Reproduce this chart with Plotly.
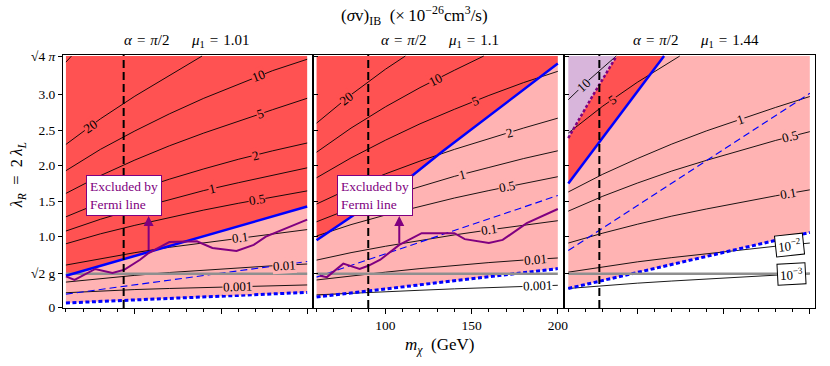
import plotly.graph_objects as go

# ---------------- data ----------------
X_RANGE = [58.3, 203.0]
Y_RANGE = [-0.005, 3.56]
Y_TOP = 3.545           # sqrt(4 pi)
G_LINE = 0.478          # sqrt(2) g level
M_GRID = [60, 80, 100, 120, 140, 160, 180, 200]

EQ = "\u2004=\u2004"
GAP = "\u2003\u2002"
panel_titles = ["<i>α</i>" + EQ + "<i>π</i>/2" + GAP + "<i>μ</i><sub>1</sub>" + EQ + "1.01",
                "<i>α</i>" + EQ + "<i>π</i>/2" + GAP + "<i>μ</i><sub>1</sub>" + EQ + "1.1",
                "<i>α</i>" + EQ + "<i>π</i>/2" + GAP + "<i>μ</i><sub>1</sub>" + EQ + "1.44"]

y_tickvals = [0, G_LINE, 1.0, 1.5, 2.0, 2.5, 3.0, Y_TOP]
y_ticktext = ["0", "√2 g", "1.0", "1.5", "2.0", "2.5", "3.0", "√4 <i>π</i>"]

# vertical dashed lines (m_chi)
vline_x = [93.5, 90.0, 78.0]

# ---- panel 1 (mu1 = 1.01)
p1_blue_x = [60, 200];  p1_blue_y = [0.45, 1.425]
p1_thin_x = [60, 200];  p1_thin_y = [0.19, 0.65]
p1_thick_x = [60, 200]; p1_thick_y = [0.066, 0.215]
p1_fermi_x = [60, 65, 77, 87, 94, 103, 108, 120, 136, 145, 159, 169, 176, 200]
p1_fermi_y = [0.44, 0.39, 0.545, 0.49, 0.535, 0.675, 0.77, 0.925, 0.935, 0.84, 0.80, 0.885, 1.0, 1.24]
p1_contours = {
    "100":   ([60, 63.2], [3.46, 3.545]),
    "20":    ([60, 80, 100, 120, 139], [2.30, 2.66, 2.98, 3.27, 3.545]),
    "10":    (M_GRID, [1.93, 2.23, 2.49, 2.73, 2.95, 3.15, 3.34, 3.50]),
    "5":     (M_GRID, [1.61, 1.86, 2.08, 2.28, 2.46, 2.63, 2.79, 2.95]),
    "2":     (M_GRID, [1.28, 1.48, 1.65, 1.81, 1.955, 2.09, 2.21, 2.32]),
    "1":     (M_GRID, [1.08, 1.245, 1.39, 1.525, 1.65, 1.76, 1.87, 1.97]),
    "0.5":   (M_GRID, [0.90, 1.04, 1.16, 1.27, 1.375, 1.47, 1.56, 1.645]),
    "0.1":   (M_GRID, [0.60, 0.69, 0.775, 0.85, 0.915, 0.98, 1.04, 1.10]),
    "0.01":  (M_GRID, [0.36, 0.41, 0.455, 0.495, 0.53, 0.56, 0.59, 0.615]),
    "0.001": (M_GRID, [0.21, 0.235, 0.255, 0.27, 0.285, 0.30, 0.31, 0.32]),
}
p1_labels = [("20", 74, 2.55, -35, "red"), ("10", 172, 3.265, -21, "red"),
             ("5", 173, 2.735, -18, "red"), ("2", 170, 2.15, -15, "red"),
             ("1", 145, 1.675, -13, "red"), ("0.5", 171, 1.52, -10, "red"),
             ("0.1", 161, 0.983, -7, "pink"), ("0.01", 187, 0.60, -4, "pink"),
             ("0.001", 159.5, 0.30, -2, "pink")]

# ---- panel 2 (mu1 = 1.1)
p2_blue_x = [60, 116, 133, 200]; p2_blue_y = [0.95, 1.87, 2.20, 3.44]
p2_thin_x = [60, 200];  p2_thin_y = [0.43, 1.58]
p2_thick_x = [60, 200]; p2_thick_y = [0.15, 0.55]
p2_fermi_x = [62, 66, 75.5, 85, 90, 97, 108, 121, 140, 146, 160, 168, 182, 200]
p2_fermi_y = [0.45, 0.43, 0.62, 0.545, 0.59, 0.675, 0.885, 1.05, 1.05, 0.965, 0.91, 0.955, 1.19, 1.39]
p2_contours = {
    "20":    ([60, 80, 100, 111.5], [2.60, 3.00, 3.36, 3.545]),
    "10":    ([60, 80, 100, 120, 140, 157], [2.19, 2.53, 2.83, 3.10, 3.345, 3.545]),
    "5":     (M_GRID, [1.83, 2.11, 2.36, 2.59, 2.795, 2.99, 3.17, 3.33]),
    "2":     (M_GRID, [1.46, 1.686, 1.885, 2.065, 2.23, 2.384, 2.53, 2.67]),
    "1":     (M_GRID, [1.21, 1.40, 1.56, 1.71, 1.85, 1.975, 2.10, 2.21]),
    "0.5":   (M_GRID, [1.01, 1.17, 1.305, 1.43, 1.545, 1.65, 1.75, 1.845]),
    "0.1":   (M_GRID, [0.67, 0.775, 0.865, 0.95, 1.025, 1.095, 1.16, 1.225]),
    "0.01":  (M_GRID, [0.39, 0.45, 0.50, 0.55, 0.595, 0.635, 0.67, 0.70]),
    "0.001": (M_GRID, [0.18, 0.205, 0.225, 0.245, 0.265, 0.28, 0.30, 0.315]),
}
p2_labels = [("20", 77.2, 2.944, -38, "red"), ("10", 129.3, 3.214, -27, "red"),
             ("5", 152.5, 2.917, -21, "red"), ("2", 172.2, 2.473, -16, "pink"),
             ("1", 144.8, 1.88, -15, "pink"), ("0.5", 170.8, 1.704, -11.5, "pink"),
             ("0.1", 160.2, 1.095, -8, "pink"), ("0.01", 187.2, 0.681, -5, "pink"),
             ("0.001", 188.2, 0.306, -2, "white")]

# ---- panel 3 (mu1 = 1.44)
p3_blue_x = [60, 115.5];  p3_blue_y = [1.75, Y_TOP]
p3_dot_x = [60, 74, 88];  p3_dot_y = [2.39, 2.98, Y_TOP]
p3_thin_x = [60, 200];  p3_thin_y = [0.805, 3.02]
p3_thick_x = [60, 200]; p3_thick_y = [0.27, 1.06]
p3_contours = {
    "10":    ([60, 70, 80, 87.8], [2.93, 3.165, 3.38, 3.545]),
    "5":     ([60, 80, 100, 110, 124.6], [2.46, 2.84, 3.175, 3.33, 3.545]),
    "1":     (M_GRID, [1.63, 1.88, 2.10, 2.305, 2.49, 2.66, 2.82, 2.975]),
    "0.5":   (M_GRID, [1.36, 1.57, 1.755, 1.925, 2.075, 2.22, 2.355, 2.48]),
    "0.1":   (M_GRID, [0.91, 1.05, 1.175, 1.29, 1.39, 1.485, 1.575, 1.66]),
    "0.01":  (M_GRID, [0.50, 0.575, 0.645, 0.705, 0.76, 0.815, 0.865, 0.91]),
    "0.001": (M_GRID, [0.27, 0.31, 0.345, 0.375, 0.405, 0.43, 0.46, 0.485]),
}
p3_labels = [("10", 68.7, 3.134, -43, "lav"), ("5", 85.6, 2.934, -35, "red"),
             ("1", 159.6, 2.657, -19, "pink"), ("0.5", 188.5, 2.405, -14.5, "pink"),
             ("0.1", 187.5, 1.607, -10, "pink"),
             ("10<sup>−2</sup>", 188.5, 0.885, -6, "box"),
             ("10<sup>−3</sup>", 189.4, 0.474, -3, "box")]

# Fermi-line annotation box / arrow
box_center = (93.8, 1.585)
arrow_x = 108
arrow_from = [0.79, 0.886]
arrow_to = 1.29

# ---------------- styling ----------------
RED = "#FF5252"
PINK = "#FFB3B3"
LAV = "#D8B5DB"
BLUE = "#0000FF"
PURPLE = "#800080"
GREY = "#8F8F8F"
FONT = "Liberation Serif, Times New Roman, DejaVu Serif, serif"
BG = {"red": RED, "pink": PINK, "white": "white", "lav": LAV}

L, R, T, B = 63, 10, 55, 58
W, H = 830, 366
PW = W - L - R
PH = H - T - B
panel_px = [(63, 314), (315.3, 566.3), (568.7, 820)]
domains = [[(a - L) / PW, (b - L) / PW] for a, b in panel_px]

fig = go.Figure()


def add_line(i, xs, ys, color, width, dash="solid", fill=None, fillcolor=None):
    ax = "" if i == 1 else str(i)
    fig.add_trace(go.Scatter(
        x=xs, y=ys, mode="lines", xaxis="x" + ax, yaxis="y" + ax,
        line=dict(color=color, width=width, dash=dash),
        fill=fill, fillcolor=fillcolor, hoverinfo="skip", showlegend=False))


def add_poly(i, xs, ys, color):
    add_line(i, xs, ys, "rgba(0,0,0,0)", 0, fill="toself", fillcolor=color)


# fills
add_poly(1, p1_blue_x + [200, 60], p1_blue_y + [Y_TOP, Y_TOP], RED)
add_poly(1, p1_blue_x + p1_thick_x[::-1], p1_blue_y + p1_thick_y[::-1], PINK)
add_poly(2, p2_blue_x + [200, 60], p2_blue_y + [Y_TOP, Y_TOP], RED)
add_poly(2, p2_blue_x + p2_thick_x[::-1], p2_blue_y + p2_thick_y[::-1], PINK)
add_poly(3, p3_dot_x + [60], p3_dot_y + [Y_TOP], LAV)
add_poly(3, p3_blue_x + p3_dot_x[::-1], p3_blue_y + p3_dot_y[::-1], RED)
add_poly(3, p3_thick_x + [200] + p3_blue_x[::-1], p3_thick_y + [Y_TOP] + p3_blue_y[::-1], PINK)

# contours
for i, cont in enumerate([p1_contours, p2_contours, p3_contours], start=1):
    for key, (xs, ys) in cont.items():
        add_line(i, xs, ys, "black", 0.9)

# dashed blue lines + grey level
for i, (tx, ty, kx, ky) in enumerate([(p1_thin_x, p1_thin_y, p1_thick_x, p1_thick_y),
                                       (p2_thin_x, p2_thin_y, p2_thick_x, p2_thick_y),
                                       (p3_thin_x, p3_thin_y, p3_thick_x, p3_thick_y)], start=1):
    add_line(i, tx, ty, BLUE, 1.1, dash="7px,4px")
    add_line(i, kx, ky, BLUE, 3, dash="4px,2.5px")
    add_line(i, [60, 200], [G_LINE, G_LINE], GREY, 2.5)

# blue solid + fermi lines
add_line(1, p1_blue_x, p1_blue_y, BLUE, 2.5)
add_line(2, p2_blue_x, p2_blue_y, BLUE, 2.5)
add_line(3, p3_blue_x, p3_blue_y, BLUE, 2.5)
add_line(3, p3_dot_x, p3_dot_y, PURPLE, 2.5, dash="3px,2px")
add_line(1, p1_fermi_x, p1_fermi_y, PURPLE, 2)
add_line(2, p2_fermi_x, p2_fermi_y, PURPLE, 2)

# vertical dashed lines
for i, vx in enumerate(vline_x, start=1):
    add_line(i, [vx, vx], [Y_RANGE[0], Y_RANGE[1]], "black", 2, dash="8px,4px")

# ---------------- axes ----------------
TICKSZ = 13.5
layout = dict(width=W, height=H, margin=dict(l=L, r=R, t=T, b=B),
              paper_bgcolor="white", plot_bgcolor="rgba(0,0,0,0)",
              font=dict(family=FONT, size=13, color="black"))
for i in range(1, 4):
    ax = "" if i == 1 else str(i)
    layout["xaxis" + ax] = dict(
        domain=domains[i - 1], range=X_RANGE, anchor="y" + ax,
        showline=True, linecolor="black", linewidth=1, mirror=True,
        ticks="outside", ticklen=5, tickwidth=1, tickcolor="black",
        tick0=0, dtick=50, showticklabels=(i == 2),
        minor=dict(tick0=0, dtick=10, ticks="outside", ticklen=3, tickcolor="black"),
        showgrid=False, zeroline=False, tickfont=dict(family=FONT, size=TICKSZ))
    layout["xaxis" + str(i + 3)] = dict(
        overlaying="x" + ax, side="top", range=X_RANGE, anchor="y" + ax,
        showline=False, ticks="inside", ticklen=5, tickwidth=1, tickcolor="black",
        tick0=0, dtick=50, showticklabels=False,
        minor=dict(tick0=0, dtick=10, ticks="inside", ticklen=3, tickcolor="black"),
        showgrid=False, zeroline=False)
    layout["yaxis" + ax] = dict(
        domain=[0, 1], range=Y_RANGE, anchor="x" + ax,
        showline=True, linecolor="black", linewidth=1, mirror=True,
        ticks="outside" if i == 1 else "inside", ticklen=4, tickwidth=1, tickcolor="black",
        tickvals=y_tickvals, ticktext=y_ticktext, showticklabels=(i == 1),
        showgrid=False, zeroline=False, tickfont=dict(family=FONT, size=TICKSZ))
    layout["yaxis" + str(i + 3)] = dict(
        overlaying="y" + ax, side="right", range=Y_RANGE, anchor="x" + ax,
        showline=False, ticks="inside", ticklen=4, tickwidth=1, tickcolor="black",
        tickvals=y_tickvals, showticklabels=False, showgrid=False, zeroline=False)
fig.update_layout(**layout)


def px_to_paper(px, py):
    return (px - L) / PW, (H - B - py) / PH


ann = []


def text_ann(px, py, text, size=14, angle=0):
    ax_, ay_ = px_to_paper(px, py)
    ann.append(dict(x=ax_, y=ay_, xref="paper", yref="paper", showarrow=False,
                    xanchor="center", yanchor="middle", textangle=angle,
                    text=text, font=dict(family=FONT, size=size)))


text_ann(417, 15, "(<i>σ</i>v)<sub>IB</sub>\u2002(×\u200910<sup>−26</sup>cm<sup>3</sup>/s)", 17)
for cx, t in zip([188, 443, 700], panel_titles):
    text_ann(cx, 41, t, 15)
text_ann(442, 346, "<i>m</i><sub><i>χ</i></sub>\u2002(GeV)", 17)
text_ann(17, 175, "<i>λ</i><sub><i>R</i></sub>\u2002=\u20022\u2009<i>λ</i><sub><i>L</i></sub>", 16.5, -90)

for i, labels in enumerate([p1_labels, p2_labels, p3_labels], start=1):
    ax = "" if i == 1 else str(i)
    for text, x, y, ang, bg in labels:
        if bg == "box":
            ann.append(dict(x=x, y=y, xref="x" + ax, yref="y" + ax, text=text, showarrow=False,
                            xanchor="center", yanchor="middle",
                            textangle=ang, bgcolor="white", bordercolor="black", borderwidth=1,
                            borderpad=2, font=dict(family=FONT, size=13)))
        else:
            ann.append(dict(x=x, y=y, xref="x" + ax, yref="y" + ax, text=text, showarrow=False,
                            xanchor="center", yanchor="middle",
                            textangle=ang, bgcolor=BG[bg], borderpad=0,
                            font=dict(family=FONT, size=13)))

for i in (1, 2):
    ax = "" if i == 1 else str(i)
    ann.append(dict(x=arrow_x, y=arrow_to, ax=arrow_x, ay=arrow_from[i - 1],
                    xref="x" + ax, yref="y" + ax, axref="x" + ax, ayref="y" + ax,
                    showarrow=True, arrowhead=2, arrowsize=1, arrowwidth=2,
                    arrowcolor=PURPLE, text=""))
    ann.append(dict(x=box_center[0], y=box_center[1], xref="x" + ax, yref="y" + ax,
                    xanchor="center", yanchor="middle",
                    showarrow=False, text="Excluded by<br>Fermi line", align="left",
                    bgcolor="white", bordercolor=PURPLE, borderwidth=1, borderpad=3,
                    font=dict(family=FONT, size=13.5, color=PURPLE)))

fig.update_layout(annotations=ann)
fig.write_html("out.html", config={"displayModeBar": False},
               post_script="document.body.style.margin='0';document.body.style.overflow='hidden';")
